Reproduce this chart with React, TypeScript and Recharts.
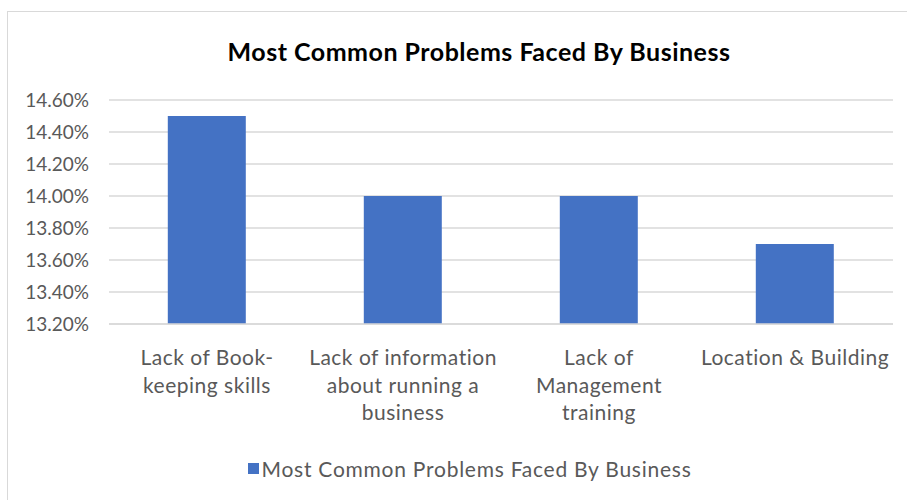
import React from 'react';
import { BarChart, Bar, XAxis, YAxis, CartesianGrid, Legend } from 'recharts';

const categories = [
  'Lack of Book-\nkeeping skills',
  'Lack of information\nabout running a\nbusiness',
  'Lack of\nManagement\ntraining',
  'Location & Building',
];
const problemShare = [0.145, 0.14, 0.14, 0.137];
const yTicks = [0.132, 0.134, 0.136, 0.138, 0.14, 0.142, 0.144, 0.146];
const seriesName = 'Most Common Problems Faced By Business';

const data = categories.map((name, i) => ({ name, value: problemShare[i] }));

const FONT = 'Lato, "Open Sans", sans-serif';
const TEXT = '#595959';

const CategoryTick = (props: any) => {
  const { x, y, payload } = props;
  const lines = String(payload.value).split('\n');
  return (
    <text x={x} y={y} textAnchor="middle" fill={TEXT} fontSize={21} fontFamily={FONT} letterSpacing={0.5}>
      {lines.map((line, i) => (
        <tspan key={i} x={x} dy={i === 0 ? 33 : 27.5}>{line}</tspan>
      ))}
    </text>
  );
};

const LegendBox = () => (
  <div style={{ height: 24, display: 'flex', alignItems: 'center', justifyContent: 'center', paddingLeft: 37 }}>
    <span style={{ width: 11, height: 11, background: '#4472C4', marginRight: 3 }} />
    <span style={{ fontSize: 21, color: TEXT, fontFamily: FONT, letterSpacing: 0.75 }}>{seriesName}</span>
  </div>
);

export default function App() {
  return (
    <div style={{ position: 'relative', width: 907, height: 500, background: '#fff', overflow: 'hidden', fontFamily: FONT }}>
      <style>{'body{margin:0}'}</style>
      <div style={{ position: 'absolute', left: 7, top: 11, width: 920, height: 520, border: '1px solid #d9d9d9' }} />
      <div style={{ position: 'absolute', left: 0, width: 958, top: 36, textAlign: 'center', fontSize: 25, fontWeight: 700, color: '#000', letterSpacing: 0.5 }}>
        {seriesName}
      </div>
      <div style={{ position: 'absolute', left: 0, top: 0 }}>
        <BarChart width={907} height={500} data={data} margin={{ top: 100, right: 14, bottom: 20, left: 9 }} barCategoryGap="30%">
          <CartesianGrid vertical={false} stroke="#d9d9d9" strokeWidth={1.3} />
          <XAxis dataKey="name" tick={<CategoryTick />} tickLine={false} axisLine={{ stroke: '#d9d9d9', strokeWidth: 1.3 }} height={132} interval={0} />
          <YAxis
            width={100}
            domain={[0.132, 0.146]}
            ticks={yTicks}
            tickFormatter={(v: number) => (v * 100).toFixed(2) + '%'}
            tick={{ fill: TEXT, fontSize: 19, fontFamily: FONT }}
            tickLine={false}
            axisLine={false}
            tickMargin={14}
            interval={0}
          />
          <Legend verticalAlign="bottom" content={<LegendBox />} />
          <Bar dataKey="value" name={seriesName} fill="#4472C4" isAnimationActive={false} />
        </BarChart>
      </div>
    </div>
  );
}
